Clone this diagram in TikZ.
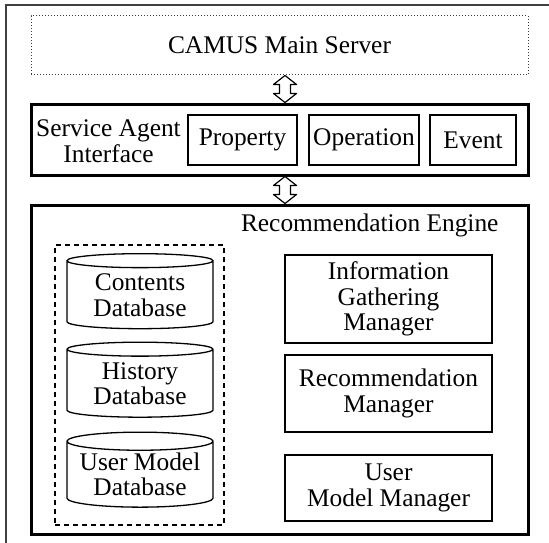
\documentclass[tikz,border=0pt]{standalone}
\usepackage{fontspec}
\setmainfont{Liberation Serif}
\usetikzlibrary{shapes.geometric,calc}

\newcommand{\twoway}[2]{%
  \draw[hollow] let \p1=(#1), \p2=(#2) in
    (\x1,\y1) -- (\x1+11.5pt,\y1-9pt) -- (\x1+5.5pt,\y1-9pt) -- (\x2+5.5pt,\y2+9pt)
    -- (\x2+11.5pt,\y2+9pt) -- (\x2,\y2) -- (\x2-11.5pt,\y2+9pt) -- (\x2-5.5pt,\y2+9pt)
    -- (\x1-5.5pt,\y1-9pt) -- (\x1-11.5pt,\y1-9pt) -- cycle;}

\begin{document}
\begin{tikzpicture}[x=1pt, y=-1pt, font=\fontsize{25.4}{25.5}\selectfont,
    frame/.style = {line width=1.5pt, black!75},
    server/.style = {draw, dotted, black!75, text=black, line width=1pt, minimum width=497, minimum height=59},
    layer/.style = {draw, line width=3pt, minimum width=497, minimum height=71},
    part/.style = {draw, line width=1.3pt, minimum width=109, minimum height=50, inner sep=0},
    store/.style = {draw, dashed, dash pattern=on 5pt off 4pt, line width=1.3pt, minimum width=169, minimum height=280},
    db/.style = {cylinder, shape border rotate=90, draw, line width=1.3pt, aspect=0.15, minimum width=146, minimum height=75, align=center, inner sep=0},
    mgr/.style = {draw, line width=1.3pt, minimum width=207, align=center, inner sep=0},
    hollow/.style = {draw, fill=white, line width=1.2pt, line join=round}]
        \useasboundingbox (0,0) rectangle (549,543);
        \draw[frame] (6,543) -- (6,5) -- (549,5);

        \node[server] (main) at (279.5,45.5) {CAMUS Main Server};
        \node[layer] (sai) at (279.5,139.5) {};
        \node[align=center] (saitext) at (108.5,141) {Service Agent\\Interface};
        \node[part] (prop) at (242.5,140) {Property};
        \node[part, minimum width=110] (oper) at (364,140) {Operation};
        \node[part, minimum width=86] (event) at (473,140) {Event};

        \node[layer, minimum height=329] (engine) at (279.5,369.5) {};
        \node[anchor=east] (enginetext) at (502,225) {Recommendation Engine};
        \node[store] (dbgroup) at (139.5,385) {};
        \node[db] (cdb) at (140,295) {Contents\\Database};
        \node[db] (hdb) at (140,383.5) {History\\Database};
        \node[db] (udb) at (140,474.5) {User Model\\Database};
        \node[mgr, minimum height=88] (igm) at (388.5,299) {Information\\Gathering\\Manager};
        \node[mgr, minimum height=77] (rm) at (388.5,393.5) {Recommendation\\Manager};
        \node[mgr, minimum height=66] (umm) at (388.5,488) {User\\Model Manager};

        \twoway{$(main.south)+(5.5,0)$}{$(sai.north)+(5.5,0)$}
        \twoway{$(sai.south)+(5.5,0)$}{$(engine.north)+(5.5,0)$}
    \end{tikzpicture}
\end{document}
